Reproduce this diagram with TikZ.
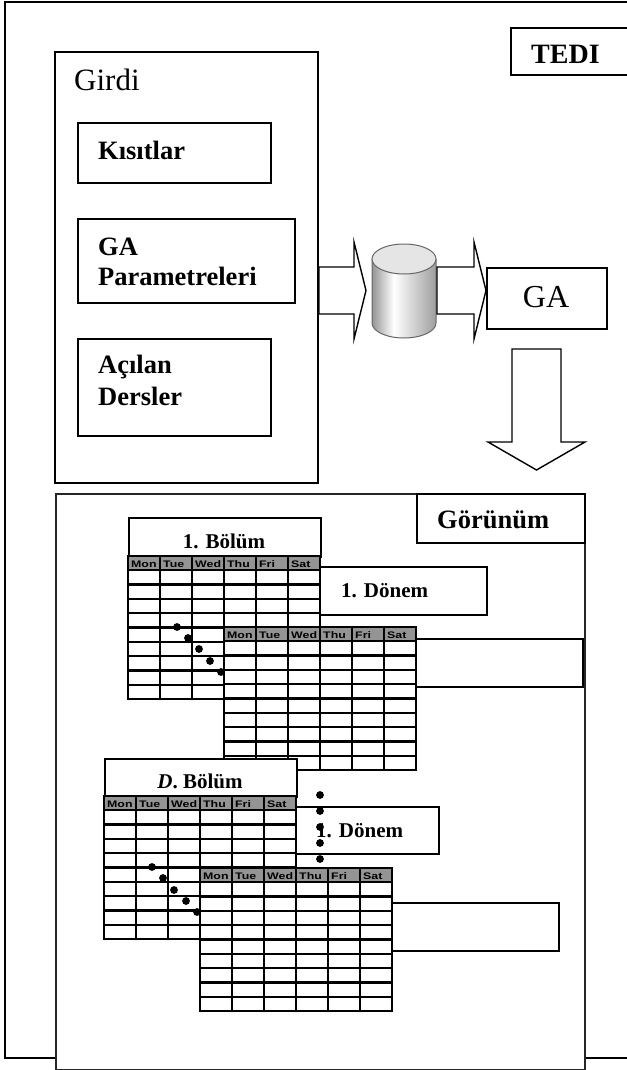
\documentclass[tikz,border=0pt]{standalone}
\usepackage{fontspec}
\setmainfont{Liberation Serif}
\newfontfamily\hdrfont[FakeStretch=1.3]{Liberation Sans}

% metallic body of the database cylinder
\pgfdeclarehorizontalshading{cylbody}{100bp}{%
  color(0bp)=(black!42); color(25bp)=(black!42); color(42bp)=(white);
  color(75bp)=(black!38); color(100bp)=(black!38)}

% one weekly timetable: #1,#2 = top-left of the header row, #3 = name prefix
\newcommand\weekgrid[3]{%
  \fill[white] (#1,#2) rectangle ++(192,143);
  \fill[hdrgray] (#1,#2) rectangle ++(192,14.3);
  \foreach \k in {1,...,9} \draw[gridline] (#1,{#2+14.3*\k}) -- ++(192,0);
  \foreach \k in {1,...,5} \draw[gridline] ({#1+32*\k},#2) -- ++(0,143);
  \draw[gridline] (#1,#2) rectangle ++(192,143);
  \foreach \dname [count=\i from 0] in {Mon,Tue,Wed,Thu,Fri,Sat}
    \node[day] (#3-\dname) at ({#1+32*\i+3},{#2+11}) {\dname};
}

\begin{document}
\begin{tikzpicture}[x=1pt,y=-1pt,
  frame/.style={draw=black, line width=2pt},
  box/.style={draw=black, line width=1.8pt, fill=white, inner sep=0pt, anchor=north west},
  barrow/.style={draw=black, line width=1.4pt, fill=white, line join=miter},
  gridline/.style={draw=black, line width=2.3pt},
  hdrgray/.style={fill=black!42},
  day/.style={anchor=base west, inner sep=0pt, font=\hdrfont\bfseries\fontsize{9.5}{10}\selectfont},
  bigbold/.style={anchor=base west, inner sep=0pt, font=\bfseries\fontsize{26.5}{30}\selectfont},
  midbold/.style={anchor=base west, inner sep=0pt, font=\bfseries\fontsize{21}{25}\selectfont},
  cylline/.style={draw=black!60, line width=1pt},
  dot/.style={fill=black}
]
\useasboundingbox (0,0) rectangle (626,1070);

% system frame and its tag
\draw[frame] (5,2) rectangle (632,1058);
\node[box, minimum width=122pt, minimum height=47pt] (tedibox) at (510,27) {};
\node[anchor=base west, inner sep=0pt, font=\bfseries\fontsize{28}{32}\selectfont] (tedi) at (531,64) {TEDI};

% input panel
\node[box, minimum width=263pt, minimum height=431pt] (girdi) at (54,51) {};
\node[anchor=base west, inner sep=0pt, font=\fontsize{31}{36}\selectfont] (girdilbl) at (74,91) {Girdi};

\node[box, minimum width=193pt, minimum height=60pt] (kisit) at (77,122) {};
\node[bigbold] (kisitlbl) at (98,159) {Kısıtlar};

\node[box, minimum width=217pt, minimum height=84pt] (gapar) at (77,218) {};
\node[bigbold] (gaparA) at (98,255) {GA};
\node[bigbold] (gaparB) at (98,285) {Parametreleri};

\node[box, minimum width=193pt, minimum height=97pt] (acilan) at (77,338) {};
\node[bigbold] (acilanA) at (98,373) {Açılan};
\node[bigbold] (acilanB) at (98,405) {Dersler};

% block arrow: input -> database
\draw[barrow] (girdi.east |- 0,267) -- (354,267) -- (354,242) -- (366,290.5)
  -- (354,339) -- (354,314) -- (girdi.east |- 0,314) -- cycle;

% database cylinder
\node[inner sep=0pt, minimum width=64pt, minimum height=95pt] (db) at (404,290.5) {};
\shade[shading=cylbody]
  (372,259) -- (372,323) arc[start angle=180, end angle=0, x radius=32, y radius=15]
  -- (436,259) -- cycle;
\draw[cylline] (372,259) -- (372,323) arc[start angle=180, end angle=0, x radius=32, y radius=15] -- (436,259);
\draw[cylline, fill=black!10] (404,259) ellipse [x radius=32, y radius=15];

% GA engine
\node[box, minimum width=120pt, minimum height=61pt] (ga) at (486,267) {};
\node[anchor=base, inner sep=0pt, font=\fontsize{32}{36}\selectfont] (galbl) at (546,307) {GA};

% block arrow: database -> GA
\draw[barrow] (437,267) -- (474,267) -- (474,242) -- (ga.west |- 0,290.5)
  -- (474,339) -- (474,314) -- (437,314) -- cycle;

% block arrow: GA -> output view
\draw[barrow] (512,349) -- (561,349) -- (561,442) -- (585,442) -- (536.5,470)
  -- (488,442) -- (512,442) -- cycle;

% output view panel
\node[box, draw=black!85, minimum width=529pt, minimum height=576pt] (gorunum) at (55,493) {};
\node[box, minimum width=168pt, minimum height=49pt] (gorunumtag) at (416,493) {};
\node[bigbold] (gorunumlbl) at (437,528) {Görünüm};

% ---- first department: term sheets ----
\node[box, minimum width=186pt, minimum height=48pt] (donemA) at (300,566) {};
\node[midbold] (donemAlbl) at (341,597) {1. Dönem};
\node[box, minimum width=192pt, minimum height=39pt] (bolumA) at (128,517) {};
\node[anchor=base, inner sep=0pt, font=\bfseries\fontsize{21}{25}\selectfont] (bolumAlbl) at (224,548) {1. Bölüm};
\weekgrid{128}{556}{ta}
\foreach \px/\py in {177/627, 188/638, 199/649, 210/661, 221/672}
  \fill[dot] (\px,\py) circle (3.9);
\node[box, minimum width=182pt, minimum height=48pt] (donemB) at (400,638) {};
\weekgrid{224}{627}{tb}

% ---- last department: term sheets ----
\node[box, minimum width=158pt, minimum height=47pt] (donemC) at (280,806) {};
\node[midbold] (donemClbl) at (316,837) {1.\hspace{7pt}Dönem};
\node[box, minimum width=192pt, minimum height=38pt] (bolumC) at (104,758) {};
\node[anchor=base, inner sep=0pt, font=\bfseries\fontsize{21}{25}\selectfont] (bolumClbl) at (200,788) {\textit{D}. Bölüm};
\weekgrid{104}{796}{tc}
\foreach \px/\py in {152/867, 163/878, 174/890, 186/901, 197/912}
  \fill[dot] (\px,\py) circle (3.9);
\node[box, minimum width=178pt, minimum height=48pt] (donemD) at (380,902) {};
\weekgrid{200}{868}{td}

% ellipsis between departments
\foreach \py in {795, 811, 827, 843, 859}
  \fill[dot] (320,\py) circle (3.9);
\end{tikzpicture}
\end{document}
